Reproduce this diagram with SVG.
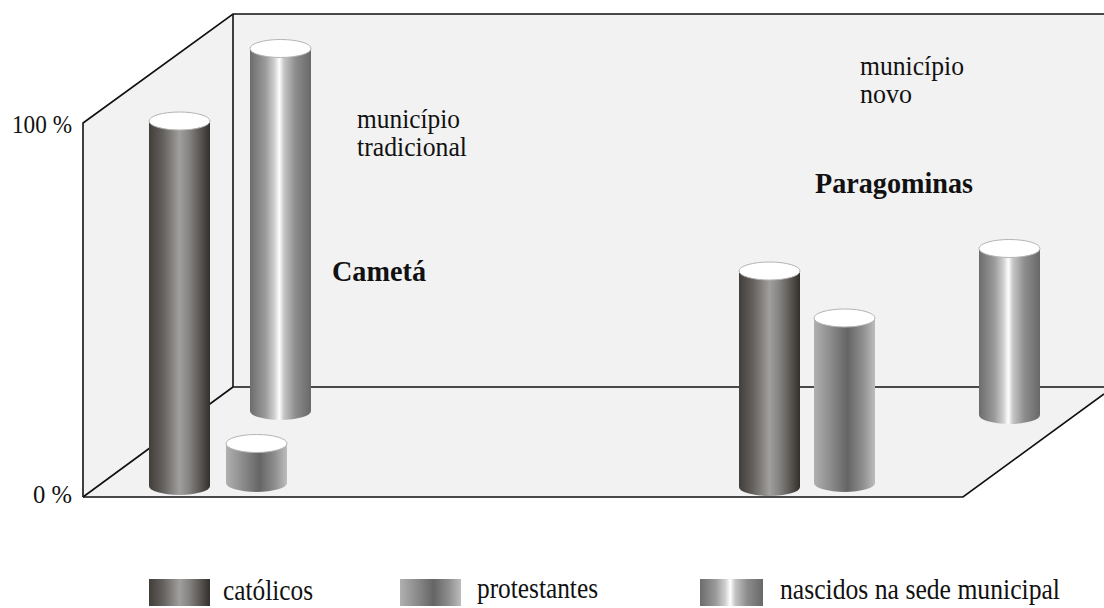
<svg xmlns="http://www.w3.org/2000/svg" width="1104" height="608" viewBox="0 0 1104 608">
<style>
.wall{fill:#f2f2f2;stroke:none}
.edge{fill:none;stroke:#111;stroke-width:1.6;stroke-linejoin:miter}
.top{fill:#fff;stroke:#b4b4b4;stroke-width:1}
.t{font-family:"Liberation Serif","Times New Roman",serif;fill:#111}
.b{font-weight:bold}
</style>
<defs>
<linearGradient id="gCat" x1="0" y1="0" x2="1" y2="0">
<stop offset="0" stop-color="#423e3a"/>
<stop offset="0.22" stop-color="#625f5c"/>
<stop offset="0.5" stop-color="#a09f9d"/>
<stop offset="0.66" stop-color="#858381"/>
<stop offset="1" stop-color="#332f2b"/>
</linearGradient>
<linearGradient id="gPro" x1="0" y1="0" x2="1" y2="0">
<stop offset="0" stop-color="#b0b0b0"/>
<stop offset="0.3" stop-color="#888"/>
<stop offset="0.55" stop-color="#656565"/>
<stop offset="0.8" stop-color="#8e8e8e"/>
<stop offset="1" stop-color="#bdbdbd"/>
</linearGradient>
<linearGradient id="gNas" x1="0" y1="0" x2="1" y2="0">
<stop offset="0" stop-color="#6c6c6c"/>
<stop offset="0.25" stop-color="#9a9a9a"/>
<stop offset="0.4" stop-color="#cfcfcf"/>
<stop offset="0.48" stop-color="#ffffff"/>
<stop offset="0.56" stop-color="#c4c4c4"/>
<stop offset="0.75" stop-color="#8c8c8c"/>
<stop offset="1" stop-color="#686868"/>
</linearGradient>
</defs>

<g id="chart-frame">
<polygon class="wall" points="83,123 233,14 1104,14 1104,394 963,497 83,497"/>
<polyline class="edge" points="83,497 83,123 233,14 1104,14"/>
<line class="edge" x1="233" y1="14" x2="233" y2="387"/>
<line class="edge" x1="233" y1="387" x2="1104" y2="387"/>
<line class="edge" x1="83" y1="497" x2="233" y2="387"/>
<polyline class="edge" points="83,497 963,497 1104,394"/>
</g>

<g id="connectors"></g>

<g id="cameta-catolicos">
<path d="M149,121 L149,486 A30.5,9 0 0 0 210,486 L210,121 Z" fill="url(#gCat)"/>
<ellipse class="top" cx="179.5" cy="121" rx="30.5" ry="9"/>
</g>
<g id="cameta-nascidos">
<path d="M250,48.5 L250,411 A30.5,9 0 0 0 311,411 L311,48.5 Z" fill="url(#gNas)"/>
<ellipse class="top" cx="280.5" cy="48.5" rx="30.5" ry="9"/>
</g>
<g id="cameta-protestantes">
<path d="M226,443.5 L226,483 A30.5,9 0 0 0 287,483 L287,443.5 Z" fill="url(#gPro)"/>
<ellipse class="top" cx="256.5" cy="443.5" rx="30.5" ry="9"/>
</g>
<g id="paragominas-catolicos">
<path d="M739,271 L739,487 A30.5,9 0 0 0 800,487 L800,271 Z" fill="url(#gCat)"/>
<ellipse class="top" cx="769.5" cy="271" rx="30.5" ry="9"/>
</g>
<g id="paragominas-protestantes">
<path d="M814,318 L814,483 A30.5,9 0 0 0 875,483 L875,318 Z" fill="url(#gPro)"/>
<ellipse class="top" cx="844.5" cy="318" rx="30.5" ry="9"/>
</g>
<g id="paragominas-nascidos">
<path d="M979,248.5 L979,415 A30.5,9 0 0 0 1040,415 L1040,248.5 Z" fill="url(#gNas)"/>
<ellipse class="top" cx="1009.5" cy="248.5" rx="30.5" ry="9"/>
</g>

<g id="axis-labels">
<text class="t" x="12" y="133" font-size="26" textLength="60" lengthAdjust="spacingAndGlyphs">100 %</text>
<text class="t" x="33" y="503" font-size="26" textLength="39" lengthAdjust="spacingAndGlyphs">0 %</text>
</g>

<g id="cameta-labels">
<text class="t" x="357" y="128" font-size="27" textLength="103" lengthAdjust="spacingAndGlyphs">município</text>
<text class="t" x="357" y="156" font-size="27" textLength="110" lengthAdjust="spacingAndGlyphs">tradicional</text>
<text class="t b" x="332" y="281" font-size="29" textLength="94" lengthAdjust="spacingAndGlyphs">Cametá</text>
</g>

<g id="paragominas-labels">
<text class="t" x="860" y="75" font-size="27" textLength="104" lengthAdjust="spacingAndGlyphs">município</text>
<text class="t" x="860" y="103" font-size="27" textLength="52" lengthAdjust="spacingAndGlyphs">novo</text>
<text class="t b" x="815" y="193" font-size="29" textLength="158" lengthAdjust="spacingAndGlyphs">Paragominas</text>
</g>

<g id="legend">
<rect x="149" y="579" width="61" height="27" fill="url(#gCat)"/>
<text class="t" x="223" y="600" font-size="29" textLength="90" lengthAdjust="spacingAndGlyphs">católicos</text>
<rect x="400" y="579" width="61" height="27" fill="url(#gPro)"/>
<text class="t" x="477" y="598" font-size="29" textLength="121" lengthAdjust="spacingAndGlyphs">protestantes</text>
<rect x="700" y="579" width="63" height="27" fill="url(#gNas)"/>
<text class="t" x="780" y="599" font-size="29" textLength="280" lengthAdjust="spacingAndGlyphs">nascidos na sede municipal</text>
</g>
</svg>
